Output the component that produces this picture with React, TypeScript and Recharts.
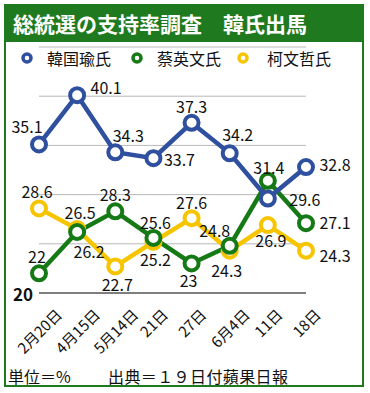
import React from 'react';
import { LineChart, Line, XAxis, YAxis, CartesianGrid, Legend, LabelList } from 'recharts';

const dates = ['2月20日', '4月15日', '5月14日', '21日', '27日', '6月4日', '11日', '18日'];
const hanValues = [35.1, 40.1, 34.3, 33.7, 37.3, 34.2, 29.6, 32.8];
const tsaiValues = [22, 26.2, 28.3, 25.6, 23, 24.8, 31.4, 27.1];
const koValues = [28.6, 26.5, 22.7, 25.2, 27.6, 24.3, 26.9, 24.3];
const seriesNames = ['韓国瑜氏', '蔡英文氏', '柯文哲氏'];
const yTicks = [20, 25, 30, 35, 40, 45];

const title = '総統選の支持率調査　韓氏出馬';
const unitNote = '単位＝%';
const sourceNote = '出典＝１９日付蘋果日報';

const FONT = '"Noto Sans CJK JP", "Noto Sans", sans-serif';
const GREEN_FRAME = '#1f7a1f';
const colors = { han: '#2f4f9f', tsai: '#157a15', ko: '#f7c500' };

// where each value label sits relative to its point (dx, dy), to dodge the crossing lines
const hanNudge = [[-12, -18], [29, -8], [13, -17], [26, 1], [0, -17], [8, -19], [37, 0], [29, -3]];
const tsaiNudge = [[-2, -17], [12, 19], [0, -17], [2, -16], [-3, 17], [-15, -16], [1, -14], [29, -1]];
const koNudge = [[-2, -17], [3, -17], [2, 18], [2, 17], [0, -16], [-3, 19], [3, 15], [29, 4]];

const data = dates.map((d, i) => ({
  date: d,
  han: hanValues[i],
  tsai: tsaiValues[i],
  ko: koValues[i],
}));

const makeLabel = (nudges: number[][]) => (props: any) => {
  const { index, value } = props;
  const x = props.x ?? props.viewBox?.x;
  const y = props.y ?? props.viewBox?.y;
  if (x == null || y == null) return null;
  const [dx, dy] = nudges[index] || [0, -16];
  return (
    <text x={x + dx} y={y + dy} textAnchor="middle" dominantBaseline="central"
      fontSize={16} fill="#111" fontFamily={FONT}>
      {value}
    </text>
  );
};

// rough text length so the rotated labels can be centred under their point
const textLen = (s: string, fs: number) =>
  s.split('').reduce((w, ch) => w + (ch.charCodeAt(0) > 255 ? fs : fs * 0.55), 0);

const DateTick = (props: any) => {
  const { x, y, payload } = props;
  const fs = 15;
  const label = String(payload.value);
  const L = textLen(label, fs);
  const cy = y + (L + fs) / (2 * Math.SQRT2);
  return (
    <text x={x} y={cy} textAnchor="middle" dominantBaseline="central" fontSize={fs}
      fill="#111" fontFamily={FONT} transform={`rotate(-45, ${x}, ${cy})`}>
      {label}
    </text>
  );
};

const ValueTick = (props: any) => {
  const { x, y, payload } = props;
  if (Number(payload.value) !== 20) return null;
  return (
    <text x={x - 6} y={y} textAnchor="end" dominantBaseline="central" fontSize={17}
      fontWeight="bold" fill="#111" fontFamily={FONT}>
      {payload.value}
    </text>
  );
};

const legendSpots = [{ dot: 27, text: 47 }, { dot: 137, text: 157 }, { dot: 243, text: 267 }];
const legendColors = [colors.han, colors.tsai, colors.ko];

const renderLegend = () => (
  <div style={{ position: 'relative', height: 20, fontFamily: FONT }}>
    {seriesNames.map((name, i) => (
      <React.Fragment key={name}>
        <svg width={14} height={14}
          style={{ position: 'absolute', left: legendSpots[i].dot - 7, top: 3 }}>
          <circle cx={7} cy={7} r={4} fill="#fff" stroke={legendColors[i]} strokeWidth={3.5} />
        </svg>
        <span style={{ position: 'absolute', left: legendSpots[i].text, top: 0, fontSize: 16,
          lineHeight: '20px', color: '#111', whiteSpace: 'nowrap' }}>
          {name}
        </span>
      </React.Fragment>
    ))}
  </div>
);

export default function App() {
  return (
    <div style={{ position: 'absolute', left: 0, top: 0, width: 370, height: 393,
      background: '#fff', fontFamily: FONT, overflow: 'hidden' }}>
      <div style={{ position: 'absolute', left: 4, top: 4, width: 360, height: 383,
        boxSizing: 'border-box', border: `2px solid ${GREEN_FRAME}` }} />
      <div style={{ position: 'absolute', left: 4, top: 4, width: 360, height: 38,
        background: GREEN_FRAME, color: '#fff', fontWeight: 'bold', fontSize: 21,
        lineHeight: '38px', paddingLeft: 9, boxSizing: 'border-box', whiteSpace: 'nowrap' }}>
        {title}
      </div>
      <div style={{ position: 'absolute', left: 0, top: 0 }}>
        <LineChart width={370} height={393} data={data}
          margin={{ top: 47, right: 64, bottom: 0, left: 0 }}>
          <CartesianGrid vertical={false} stroke="#b8b8b8" />
          <XAxis dataKey="date" interval={0} height={100} tickLine={false} tickSize={0}
            tickMargin={13} axisLine={{ stroke: '#222' }} tick={<DateTick />} />
          <YAxis domain={[20, 45]} ticks={yTicks} interval={0} width={39} axisLine={false}
            tickLine={false} tickSize={0} tickMargin={0} tick={<ValueTick />} />
          <Legend verticalAlign="middle" align="center" content={renderLegend}
            wrapperStyle={{ top: 48, left: 0, width: 370, height: 20 }} />
          <Line dataKey="ko" name={seriesNames[2]} stroke={colors.ko} strokeWidth={4.5}
            dot={{ r: 7, strokeWidth: 4, fill: '#fff', stroke: colors.ko }} activeDot={false}
            isAnimationActive={false}>
            <LabelList dataKey="ko" content={makeLabel(koNudge)} />
          </Line>
          <Line dataKey="tsai" name={seriesNames[1]} stroke={colors.tsai} strokeWidth={4.5}
            dot={{ r: 7, strokeWidth: 4, fill: '#fff', stroke: colors.tsai }} activeDot={false}
            isAnimationActive={false}>
            <LabelList dataKey="tsai" content={makeLabel(tsaiNudge)} />
          </Line>
          <Line dataKey="han" name={seriesNames[0]} stroke={colors.han} strokeWidth={4.5}
            dot={{ r: 7, strokeWidth: 4, fill: '#fff', stroke: colors.han }} activeDot={false}
            isAnimationActive={false}>
            <LabelList dataKey="han" content={makeLabel(hanNudge)} />
          </Line>
        </LineChart>
      </div>
      <div style={{ position: 'absolute', left: 8, top: 366, fontSize: 16, lineHeight: '20px',
        color: '#111', whiteSpace: 'nowrap' }}>{unitNote}</div>
      <div style={{ position: 'absolute', left: 108, top: 366, fontSize: 16, lineHeight: '20px',
        color: '#111', whiteSpace: 'nowrap', letterSpacing: 0.4 }}>{sourceNote}</div>
    </div>
  );
}
